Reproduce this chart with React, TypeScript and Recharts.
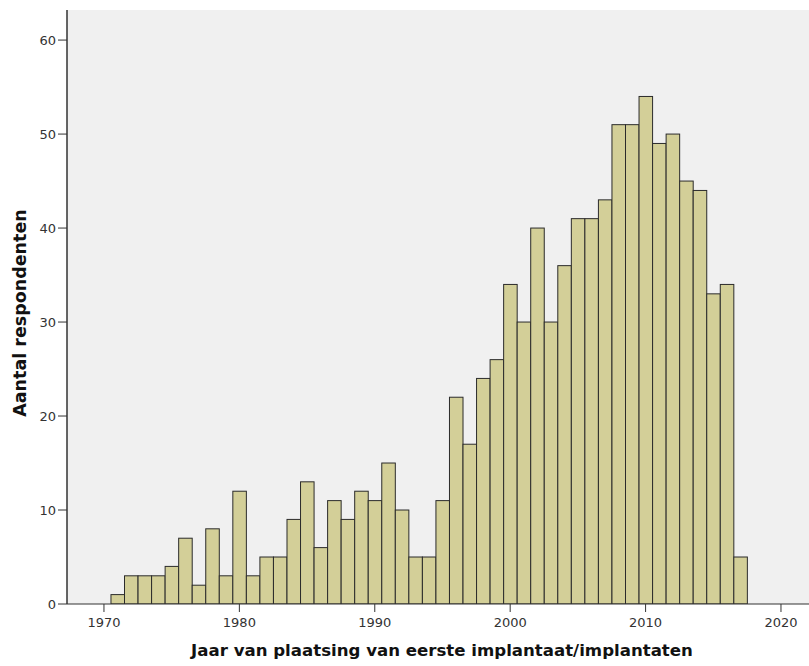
import React from "react"
import {
  ComposedChart,
  Bar,
  XAxis,
  YAxis,
  CartesianGrid,
} from "recharts"

// jaar van plaatsing (1971-2017) en aantal respondenten per jaar
const YEARS = [
  1971, 1972, 1973, 1974, 1975, 1976, 1977, 1978, 1979, 1980,
  1981, 1982, 1983, 1984, 1985, 1986, 1987, 1988, 1989, 1990,
  1991, 1992, 1993, 1994, 1995, 1996, 1997, 1998, 1999, 2000,
  2001, 2002, 2003, 2004, 2005, 2006, 2007, 2008, 2009, 2010,
  2011, 2012, 2013, 2014, 2015, 2016, 2017,
]
const COUNTS = [
  1, 3, 3, 3, 4, 7, 2, 8, 3, 12,
  3, 5, 5, 9, 13, 6, 11, 9, 12, 11,
  15, 10, 5, 5, 11, 22, 17, 24, 26, 34,
  30, 40, 30, 36, 41, 41, 43, 51, 51, 54,
  49, 50, 45, 44, 33, 34, 5,
]
const X_TICKS = [1970, 1980, 1990, 2000, 2010, 2020]
const Y_TICKS = [0, 10, 20, 30, 40, 50, 60]

const X_MIN = 1967.27
const X_MAX = 2022.66
const Y_MAX = 63.2

const CHART_W = 817
const CHART_H = 666
const PLOT_LEFT = 67
const PLOT_W = CHART_W - PLOT_LEFT
const BAR_W = PLOT_W / (X_MAX - X_MIN)

const FONT = "'DejaVu Sans', Verdana, sans-serif"

const data = YEARS.map((year, i) => ({ year, count: COUNTS[i] }))

// histogram bin: full year width, centred on the bar's own position
function HistBar(props: any) {
  const { x, y, width, height } = props
  if (!height) return null
  const cx = x + width / 2
  return (
    <rect
      x={cx - BAR_W / 2}
      y={y}
      width={BAR_W}
      height={height}
      fill="#d3cf98"
      stroke="#2b2b2b"
      strokeWidth={1}
    />
  )
}

export default function App() {
  const tick = { fontSize: 13, fill: "#333", fontFamily: FONT }

  return (
    <div style={{ position: "absolute", left: 0, top: 0, width: 809, height: 666, overflow: "hidden", background: "#fff" }}>
      <ComposedChart
        width={CHART_W}
        height={CHART_H}
        data={data}
        margin={{ top: 10, right: 0, bottom: 32, left: 0 }}
        barCategoryGap={0}
        barGap={0}
      >
        <CartesianGrid horizontal={false} vertical={false} fill="#f0f0f0" />
        <XAxis
          xAxisId="top"
          orientation="top"
          type="number"
          domain={[X_MIN, X_MAX]}
          allowDataOverflow
          height={0}
          tick={false}
          tickLine={false}
          axisLine={{ stroke: "#8a8a8a", strokeWidth: 2 }}
        />
        <XAxis
          dataKey="year"
          type="number"
          domain={[X_MIN, X_MAX]}
          allowDataOverflow
          ticks={X_TICKS}
          interval={0}
          height={30}
          tick={tick}
          tickSize={8}
          tickMargin={6}
          tickLine={{ stroke: "#333" }}
          axisLine={{ stroke: "#333" }}
          label={{
            value: "Jaar van plaatsing van eerste implantaat/implantaten",
            position: "bottom",
            offset: 10,
            style: { fontSize: 16.6, fontWeight: "bold", fill: "#111", fontFamily: FONT },
          }}
        />
        <YAxis
          type="number"
          domain={[0, Y_MAX]}
          ticks={Y_TICKS}
          interval={0}
          allowDataOverflow
          width={PLOT_LEFT}
          tick={tick}
          tickSize={9}
          tickMargin={2}
          tickLine={{ stroke: "#333" }}
          axisLine={{ stroke: "#333", strokeWidth: 1.5 }}
          label={{
            value: "Aantal respondenten",
            angle: -90,
            position: "insideLeft",
            offset: 20,
            dy: 6,
            style: { fontSize: 17.5, fontWeight: "bold", fill: "#111", fontFamily: FONT, textAnchor: "middle" },
          }}
        />
        <Bar
          dataKey="count"
          shape={HistBar}
          isAnimationActive={false}
        />
      </ComposedChart>
    </div>
  )
}
